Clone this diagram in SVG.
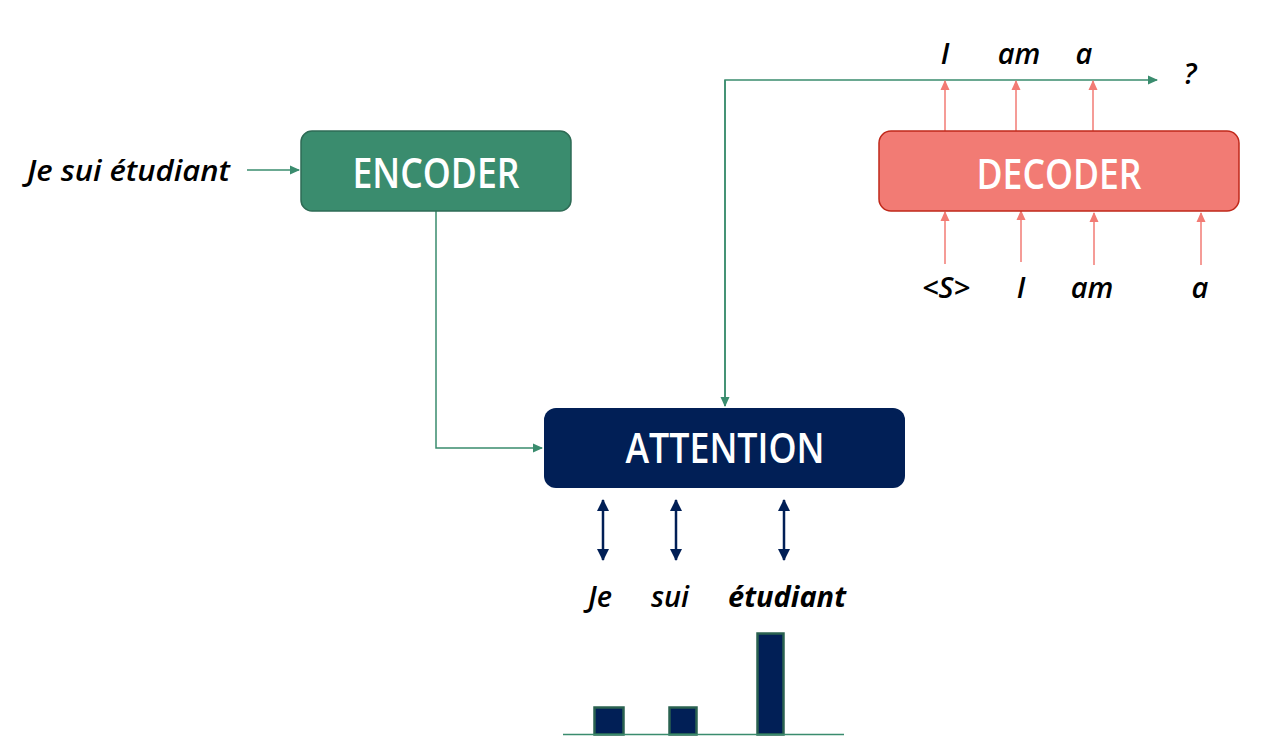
<svg xmlns="http://www.w3.org/2000/svg" width="1262" height="747" viewBox="0 0 1262 747">
<style>
.lbl{font-family:"Open Sans","Liberation Sans",sans-serif;font-style:italic;font-weight:600;font-size:29px;fill:#000;text-anchor:middle}
.title{font-family:"Open Sans","Liberation Sans",sans-serif;font-size:41px;fill:#fff;text-anchor:middle;font-weight:600}
.g{stroke:#3a8c6e;stroke-width:1.5;fill:none}
.r{stroke:#f27b74;stroke-width:1.5;fill:none}
.b{stroke:#011f56;stroke-width:2.5;fill:none}
</style>
<defs>
<marker id="ag" markerWidth="10" markerHeight="10" refX="9" refY="5" orient="auto" markerUnits="userSpaceOnUse"><path d="M0,0.5 L10,5 L0,9.5 Z" fill="#3a8c6e"/></marker>
<marker id="ar" markerWidth="10" markerHeight="10" refX="9" refY="5" orient="auto" markerUnits="userSpaceOnUse"><path d="M0,0.5 L10,5 L0,9.5 Z" fill="#f27b74"/></marker>
<marker id="ab" markerWidth="12" markerHeight="12" refX="11" refY="6" orient="auto-start-reverse" markerUnits="userSpaceOnUse"><path d="M0,0 L12,6 L0,12 Z" fill="#011f56"/></marker>
</defs>
<rect width="1262" height="747" fill="#fff"/>
<g id="connectors">
<line class="g" x1="247" y1="170" x2="299" y2="170" marker-end="url(#ag)"/>
<polyline class="g" points="436,211 436,448 542,448" marker-end="url(#ag)"/>
<polyline class="g" points="725,406 725,80 1157,80" marker-end="url(#ag)"/>
<path class="g" d="M725,80 L725,406" marker-end="url(#ag)"/>
<line class="r" x1="945" y1="131" x2="945" y2="81" marker-end="url(#ar)"/>
<line class="r" x1="1016" y1="131" x2="1016" y2="81" marker-end="url(#ar)"/>
<line class="r" x1="1093" y1="131" x2="1093" y2="81" marker-end="url(#ar)"/>
<line class="r" x1="945" y1="264" x2="945" y2="212" marker-end="url(#ar)"/>
<line class="r" x1="1021" y1="262" x2="1021" y2="211" marker-end="url(#ar)"/>
<line class="r" x1="1094" y1="265" x2="1094" y2="213" marker-end="url(#ar)"/>
<line class="r" x1="1201" y1="265" x2="1201" y2="213" marker-end="url(#ar)"/>
<line class="b" x1="603" y1="500" x2="603" y2="560" marker-start="url(#ab)" marker-end="url(#ab)"/>
<line class="b" x1="676" y1="500" x2="676" y2="560" marker-start="url(#ab)" marker-end="url(#ab)"/>
<line class="b" x1="784" y1="500" x2="784" y2="560" marker-start="url(#ab)" marker-end="url(#ab)"/>
</g>
<g id="input-text"><text class="lbl" x="128.5" y="181" textLength="203" lengthAdjust="spacingAndGlyphs">Je sui étudiant</text></g>
<g id="encoder">
<rect x="301" y="131" width="270" height="80" rx="11" fill="#3a8c6e" stroke="#2e6b55" stroke-width="1.5"/>
<text class="title" x="436" y="188" textLength="167" lengthAdjust="spacingAndGlyphs">ENCODER</text>
</g>
<g id="decoder">
<rect x="879" y="131" width="360" height="80" rx="12" fill="#f27b74" stroke="#c0281a" stroke-width="1.5"/>
<text class="title" x="1059" y="189" textLength="165" lengthAdjust="spacingAndGlyphs">DECODER</text>
</g>
<g id="attention">
<rect x="544" y="408" width="361" height="80" rx="12" fill="#011f56"/>
<text class="title" x="725" y="463" textLength="199" lengthAdjust="spacingAndGlyphs">ATTENTION</text>
</g>
<g id="decoder-outputs">
<text class="lbl" x="945" y="64">I</text>
<text class="lbl" x="1019" y="64">am</text>
<text class="lbl" x="1084" y="64">a</text>
<text class="lbl" x="1190" y="84">?</text>
</g>
<g id="decoder-inputs">
<text class="lbl" x="946" y="298">&lt;S&gt;</text>
<text class="lbl" x="1021" y="298">I</text>
<text class="lbl" x="1092" y="298">am</text>
<text class="lbl" x="1200" y="298">a</text>
</g>
<g id="attention-words">
<text class="lbl" x="600" y="607">Je</text>
<text class="lbl" x="670" y="607">sui</text>
<text class="lbl" x="787" y="607" style="font-weight:700">étudiant</text>
</g>
<g id="bars">
<rect x="594.5" y="707.5" width="29" height="27" fill="#011f56" stroke="#2a6250" stroke-width="2.5"/>
<rect x="669.5" y="707.5" width="27" height="27" fill="#011f56" stroke="#2a6250" stroke-width="2.5"/>
<rect x="757.5" y="633.5" width="26" height="101" fill="#011f56" stroke="#2a6250" stroke-width="2.5"/>
<line x1="563" y1="734.5" x2="844" y2="734.5" stroke="#3a8c6e" stroke-width="1.5"/>
</g>
</svg>
